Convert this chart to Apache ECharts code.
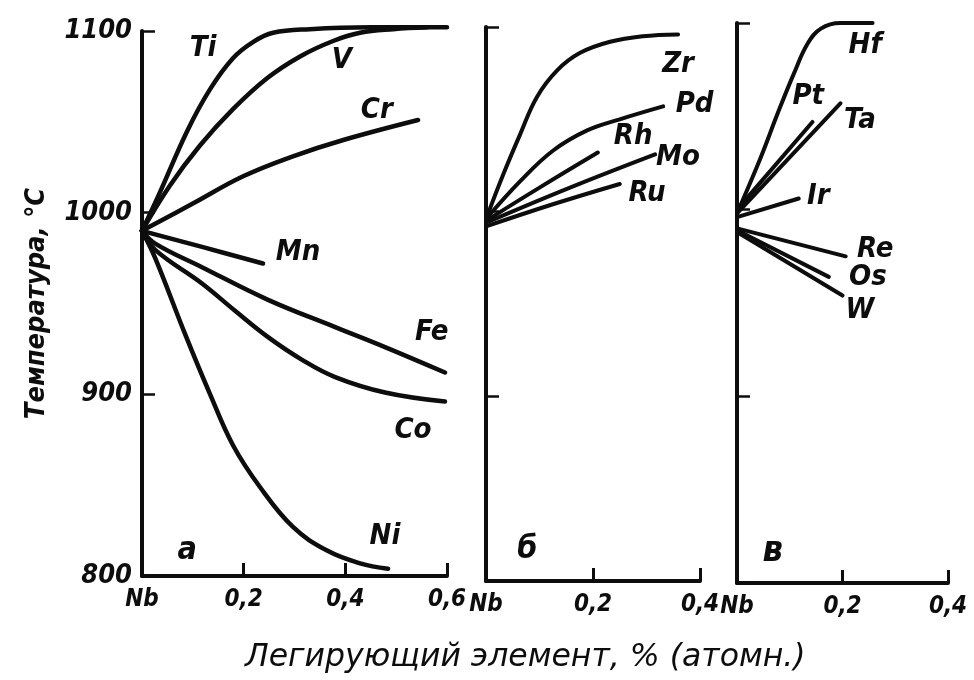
<!DOCTYPE html>
<html>
<head>
<meta charset="utf-8">
<script src="https://cdn.jsdelivr.net/npm/echarts@6/dist/echarts.min.js"></script>
<style>
html,body{margin:0;padding:0;background:#fff;}
#chart{width:974px;height:680px;}
</style>
</head>
<body>
<div id="chart"></div>
<script>
// ---- Data (x = % alloying element, y = temperature °C) ----
// Panel а
const tiData = [[0,990],[0.035,1011],[0.089,1045],[0.134,1068],[0.179,1085],[0.219,1094],[0.258,1099],[0.33,1101],[0.45,1102],[0.6,1102]];
const vData  = [[0,990],[0.055,1015],[0.114,1037],[0.179,1057],[0.246,1074],[0.311,1086],[0.376,1094.5],[0.429,1099],[0.494,1101],[0.561,1102]];
const crData = [[0,990],[0.1,1005],[0.199,1020],[0.297,1031],[0.396,1040],[0.543,1051]];
const mnData = [[0,990],[0.12,981],[0.238,972]];
const feData = [[0,990],[0.026,983],[0.118,970],[0.248,952],[0.38,937],[0.478,926],[0.596,912]];
const coData = [[0,990],[0.026,979.5],[0.118,961],[0.183,946],[0.248,931.5],[0.315,919],[0.38,909.5],[0.478,901],[0.596,896]];
const niData = [[0,990],[0.026,975],[0.085,933],[0.134,900],[0.179,872],[0.232,849],[0.297,827],[0.364,814],[0.429,807],[0.484,804]];
// Panel б
const zrData = [[0,996],[0.032,1020],[0.064,1042],[0.095,1062],[0.133,1076.5],[0.176,1086],[0.232,1092],[0.293,1095],[0.359,1096]];
const pdData = [[0,996],[0.064,1016.5],[0.125,1033],[0.189,1044],[0.25,1050],[0.331,1057]];
const rhData = [[0,995],[0.1,1013],[0.209,1032]];
const moData = [[0,994],[0.157,1013],[0.316,1031]];
const ruData = [[0,992],[0.125,1004],[0.25,1015]];
// Panel в
const hfData = [[0,998],[0.045,1028],[0.077,1051.5],[0.108,1073],[0.134,1089],[0.159,1097],[0.196,1100],[0.257,1100]];
const ptData = [[0,1000],[0.143,1047]];
const taData = [[0,998],[0.196,1057]];
const irData = [[0,996],[0.117,1006]];
const reData = [[0,990],[0.206,975]];
const osData = [[0,989],[0.174,964]];
const wData  = [[0,988],[0.2,954]];

// Curve names and text anchors (data coordinates of each panel)
const namesA = ['Ti','V','Cr','Mn','Fe','Co','Ni'];
const namesB = ['Zr','Pd','Rh','Mo','Ru'];
const namesC = ['Hf','Pt','Ta','Ir','Re','Os','W'];
const anchorsA = [[0.12,1090.5,'Ti'],[0.393,1084,'V'],[0.462,1056.5,'Cr'],[0.307,978,'Mn'],[0.57,934,'Fe'],[0.533,880,'Co'],[0.478,821.5,'Ni']];
const anchorsB = [[0.359,1079.5,'Zr'],[0.39,1058,'Pd'],[0.275,1040.5,'Rh'],[0.359,1029.5,'Mo'],[0.301,1010,'Ru']];
const anchorsC = [[0.243,1088,'Hf'],[0.135,1060.5,'Pt'],[0.233,1048,'Ta'],[0.154,1007,'Ir'],[0.262,978.5,'Re'],[0.248,963.5,'Os'],[0.233,946,'W']];
const panelLetters = ['а', 'б', 'в'];
const letterAnchors = [[0.089,814],[0.077,817],[0.068,817]];

const yTicks = [800, 900, 1000, 1100];
const xMaxA = 0.6, xMaxB = 0.4, xMaxC = 0.4;
const yTitle = 'Температура, °C';
const xTitle = 'Легирующий элемент, % (атомн.)';

// ---- Styling ----
const INK = '#0d0d0d';
const FONT = '"Liberation Sans Narrow", "DejaVu Sans Condensed", "DejaVu Sans", sans-serif';

function xAxisCfg(idx, max) {
  return {
    type: 'value', gridIndex: idx, min: 0, max: max, interval: 0.2,
    axisLine: { show: true, onZero: false, lineStyle: { color: INK, width: 4 } },
    axisTick: { show: true, inside: true, length: 13, lineStyle: { color: INK, width: 3 } },
    splitLine: { show: false },
    axisLabel: {
      show: true, margin: 12, color: INK, fontSize: 24, fontStyle: 'italic', fontWeight: 'bold', fontFamily: FONT,
      formatter: v => (Math.abs(v) < 1e-9 ? 'Nb' : v.toFixed(1).replace('.', ','))
    }
  };
}
function yAxisCfg(idx, showLabels) {
  const cfg = {
    type: 'value', gridIndex: idx, min: yTicks[0], max: yTicks[yTicks.length - 1], interval: 100,
    axisLine: { show: true, onZero: false, lineStyle: { color: INK, width: 4 } },
    axisTick: { show: true, inside: true, length: 13, lineStyle: { color: INK, width: 2.5 } },
    splitLine: { show: false },
    axisLabel: {
      show: showLabels, margin: 10, color: INK, fontSize: 27, fontStyle: 'italic', fontWeight: 'bold', fontFamily: FONT,
      formatter: v => String(v)
    }
  };
  if (showLabels) {
    cfg.name = yTitle;
    cfg.nameLocation = 'middle';
    cfg.nameRotate = 90;
    cfg.nameGap = 92;
    cfg.nameTextStyle = { color: INK, fontSize: 27, fontStyle: 'italic', fontWeight: 'bold', fontFamily: FONT };
  }
  return cfg;
}
function curve(name, data, idx, width) {
  return {
    name: name, type: 'line', xAxisIndex: idx, yAxisIndex: idx, data: data,
    smooth: 0.4, showSymbol: false, symbol: 'none', silent: true, clip: false,
    lineStyle: { color: INK, width: width, cap: 'round', join: 'round' }
  };
}
function labels(anchors, idx, size) {
  return {
    type: 'scatter', xAxisIndex: idx, yAxisIndex: idx, data: anchors,
    symbolSize: 0, itemStyle: { color: INK, opacity: 1 }, silent: true,
    label: {
      show: true, position: 'inside', formatter: p => p.data[2],
      color: INK, opacity: 1, textBorderWidth: 0,
      fontSize: size, fontStyle: 'italic', fontWeight: 'bold', fontFamily: FONT
    }
  };
}

const series = [];
[tiData, vData, crData, mnData, feData, coData, niData].forEach((d, i) => series.push(curve(namesA[i], d, 0, 4.5)));
[zrData, pdData, rhData, moData, ruData].forEach((d, i) => series.push(curve(namesB[i], d, 1, 4)));
[hfData, ptData, taData, irData, reData, osData, wData].forEach((d, i) => series.push(curve(namesC[i], d, 2, 4)));
series.push(labels(anchorsA, 0, 29), labels(anchorsB, 1, 29), labels(anchorsC, 2, 29));
letterAnchors.forEach((a, i) => series.push(labels([[a[0], a[1], panelLetters[i]]], i, i === 2 ? 36 : 32)));

const chart = echarts.init(document.getElementById('chart'), null, { renderer: 'canvas' });
chart.setOption({
  backgroundColor: '#ffffff',
  animation: false,
  title: {
    text: xTitle, left: 240, top: 637,
    textStyle: { color: INK, fontSize: 31.5, fontStyle: 'italic', fontWeight: 'normal', fontFamily: '"DejaVu Sans", sans-serif' }
  },
  grid: [
    { left: 142, top: 31, width: 305, height: 545 },
    { left: 486, top: 27, width: 214, height: 554 },
    { left: 737, top: 23, width: 211, height: 560 }
  ],
  xAxis: [xAxisCfg(0, xMaxA), xAxisCfg(1, xMaxB), xAxisCfg(2, xMaxC)],
  yAxis: [yAxisCfg(0, true), yAxisCfg(1, false), yAxisCfg(2, false)],
  series: series
});
</script>
</body>
</html>
